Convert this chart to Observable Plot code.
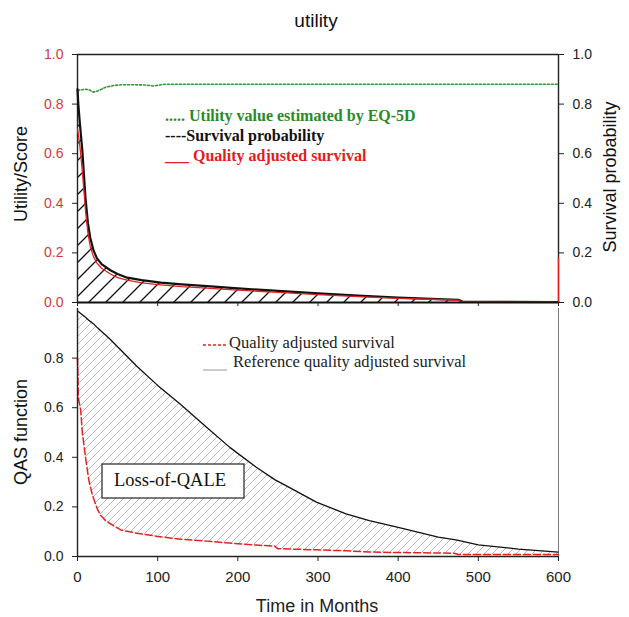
<!DOCTYPE html>
<html>
<head>
<meta charset="utf-8">
<script src="https://cdn.jsdelivr.net/npm/d3@7"></script>
<script src="https://cdn.jsdelivr.net/npm/@observablehq/plot@0.6"></script>
<style>
  body { margin: 0; background: #fff; }
  #wrap { position: relative; width: 629px; height: 617px; overflow: hidden; background: #fff; }
  .plotbox svg { overflow: visible; }
</style>
</head>
<body>
<svg width="0" height="0" style="position:absolute">
  <defs>
    <pattern id="hatchTop" patternUnits="userSpaceOnUse" width="17" height="17">
      <path d="M-2,2 L2,-2 M0,17 L17,0 M15,19 L19,15" stroke="#111" stroke-width="1.3"/>
    </pattern>
    <pattern id="hatchBot" patternUnits="userSpaceOnUse" width="8" height="8">
      <path d="M-1,1 L1,-1 M0,8 L8,0 M7,9 L9,7" stroke="#9a9a9a" stroke-width="0.7"/>
    </pattern>
  </defs>
</svg>
<div id="wrap">
  <div id="toppanel" class="plotbox" style="position:absolute;left:0;top:0"></div>
  <div id="botpanel" class="plotbox" style="position:absolute;left:0;top:302px"></div>
</div>
<script>
// ---------- Data ----------
// Top panel: utility (EQ-5D), survival probability, quality adjusted survival
const utilT = [0, 5, 10, 15, 20, 25, 30, 35, 45, 55, 70, 85, 95, 100, 110, 130, 600];
const utilV = [0.855, 0.858, 0.86, 0.857, 0.848, 0.853, 0.86, 0.868, 0.875, 0.878, 0.878, 0.877, 0.873, 0.876, 0.88, 0.88, 0.88];

const survT = [0, 1, 3, 6, 10, 13, 16, 20, 24, 30, 41, 50, 62, 80, 104, 130, 166, 200, 250, 300, 350, 400, 450, 475, 480, 500, 600];
const survV = [0.86, 0.80, 0.72, 0.615, 0.42, 0.32, 0.26, 0.21, 0.18, 0.155, 0.13, 0.115, 0.10, 0.09, 0.08, 0.073, 0.065, 0.057, 0.047, 0.037, 0.028, 0.02, 0.014, 0.011, 0.004, 0.003, 0.002];

const qasTopT = [0, 1, 3, 6, 10, 13, 16, 20, 24, 30, 41, 50, 62, 80, 104, 130, 166, 200, 250, 300, 350, 400, 450, 475, 480, 500, 600, 600];
const qasTopV = [0.70, 0.68, 0.63, 0.53, 0.37, 0.28, 0.225, 0.185, 0.16, 0.138, 0.115, 0.10, 0.09, 0.079, 0.071, 0.064, 0.057, 0.05, 0.041, 0.032, 0.024, 0.017, 0.012, 0.009, 0.003, 0.003, 0.002, 0.18];

// Bottom panel: QAS vs reference QAS
const botT   = [0, 1, 4, 6, 10, 14, 18, 21, 25, 29, 35, 41, 54, 74, 100, 128, 161, 190, 223, 246, 250, 256, 298, 335, 364, 400, 450, 470, 475, 500, 550, 600];
const botRef = [0.99, 0.988, 0.98, 0.975, 0.965, 0.953, 0.943, 0.935, 0.922, 0.91, 0.893, 0.875, 0.833, 0.767, 0.69, 0.615, 0.521, 0.44, 0.36, 0.31, 0.303, 0.293, 0.219, 0.172, 0.145, 0.117, 0.078, 0.068, 0.065, 0.047, 0.03, 0.018];
const botQas = [0.80, 0.64, 0.59, 0.50, 0.40, 0.31, 0.255, 0.225, 0.19, 0.165, 0.145, 0.132, 0.107, 0.094, 0.081, 0.07, 0.062, 0.054, 0.046, 0.042, 0.031, 0.031, 0.027, 0.023, 0.018, 0.016, 0.014, 0.013, 0.008, 0.008, 0.008, 0.008];

// Ticks
const yTicks = [0, 0.2, 0.4, 0.6, 0.8, 1.0];
const yTicksBot = [0, 0.2, 0.4, 0.6, 0.8];
const xTicks = [0, 100, 200, 300, 400, 500, 600];

// ---------- Tables ----------
const util = utilT.map((t, i) => ({t, v: utilV[i]}));
const surv = survT.map((t, i) => ({t, v: survV[i]}));
const qasTop = qasTopT.map((t, i) => ({t, v: qasTopV[i]}));
const bot = botT.map((t, i) => ({t, ref: botRef[i], qas: botQas[i]}));

const fmt = d => d.toFixed(1);
const FONT = "'Liberation Sans', Arial, sans-serif";

// ---------- Top panel ----------
const topPlot = Plot.plot({
  width: 629, height: 306,
  marginLeft: 77, marginRight: 71, marginTop: 54, marginBottom: 4,
  style: {fontFamily: FONT, fontSize: "14px", background: "transparent"},
  x: {domain: [0, 600], axis: null},
  y: {domain: [0, 1], axis: null},
  marks: [
    Plot.areaY(surv, {x: "t", y: "v", fill: "url(#hatchTop)"}),
    Plot.ruleY([1], {stroke: "#222", strokeWidth: 1.4}),
    Plot.ruleX([0], {stroke: "#222", strokeWidth: 1.4}),
    Plot.ruleX([600], {stroke: "#222", strokeWidth: 1.4}),
    Plot.line(util, {x: "t", y: "v", stroke: "#2f9a2f", strokeWidth: 1.6, strokeDasharray: "2,2"}),
    Plot.line(surv, {x: "t", y: "v", stroke: "#111", strokeWidth: 2.2}),
    Plot.line(qasTop, {x: "t", y: "v", stroke: "#e02020", strokeWidth: 1.3}),
    Plot.ruleY([0], {stroke: "#111", strokeWidth: 1.8}),
    Plot.axisY({ticks: yTicks, anchor: "left", tickFormat: fmt, tickSize: 5, tickPadding: 9,
      fill: "#d23c3c", stroke: "#222", fontSize: 14, label: null}),
    Plot.axisY({ticks: yTicks, anchor: "right", tickFormat: fmt, tickSize: 5, tickPadding: 9,
      fill: "#222", stroke: "#222", fontSize: 14, label: null}),
    Plot.axisX({ticks: xTicks, anchor: "bottom", tickSize: 4, tickFormat: () => "", stroke: "#222", label: null})
  ]
});
document.getElementById("toppanel").appendChild(topPlot);

// ---------- Bottom panel ----------
const botPlot = Plot.plot({
  width: 629, height: 315,
  marginLeft: 77, marginRight: 71, marginTop: 6, marginBottom: 61,
  style: {fontFamily: FONT, fontSize: "14px", background: "transparent"},
  x: {domain: [0, 600], axis: null},
  y: {domain: [0, 1], axis: null},
  marks: [
    Plot.areaY(bot, {x: "t", y1: "qas", y2: "ref", fill: "url(#hatchBot)"}),
    Plot.line(bot, {x: "t", y: "ref", stroke: "#111", strokeWidth: 1.3}),
    Plot.line(bot, {x: "t", y: "qas", stroke: "#e82020", strokeWidth: 1.5, strokeDasharray: "7,3"}),
    Plot.ruleX([0], {stroke: "#222", strokeWidth: 1.4}),
    Plot.ruleX([600], {stroke: "#555", strokeWidth: 0.8}),
    Plot.ruleY([0], {stroke: "#222", strokeWidth: 1.4}),
    Plot.axisY({ticks: yTicksBot, anchor: "left", tickFormat: fmt, tickSize: 5, tickPadding: 9,
      fill: "#222", stroke: "#222", fontSize: 14, label: null}),
    Plot.axisX({ticks: xTicks, anchor: "bottom", tickSize: 5, tickPadding: 10,
      fill: "#222", stroke: "#222", fontSize: 15, label: null})
  ]
});
document.getElementById("botpanel").appendChild(botPlot);

// ---------- Annotations (title, axis titles, legends) ----------
const ov = d3.select("#wrap").append("svg")
  .attr("width", 629).attr("height", 617)
  .style("position", "absolute").style("left", 0).style("top", 0)
  .style("pointer-events", "none");

ov.append("text").attr("x", 316).attr("y", 22).attr("text-anchor", "middle")
  .attr("dominant-baseline", "middle").attr("font-family", FONT).attr("font-size", 19)
  .attr("fill", "#111").text("utility");

function vlabel(x, y, txt) {
  ov.append("text").attr("transform", `translate(${x},${y}) rotate(-90)`)
    .attr("text-anchor", "middle").attr("dominant-baseline", "middle")
    .attr("font-family", FONT).attr("font-size", 18).attr("fill", "#111").text(txt);
}
vlabel(22, 174, "Utility/Score");
vlabel(611, 177, "Survival probability");
vlabel(22, 432, "QAS function");

ov.append("text").attr("x", 317).attr("y", 607).attr("text-anchor", "middle")
  .attr("dominant-baseline", "middle").attr("font-family", FONT).attr("font-size", 18)
  .attr("fill", "#222").text("Time in Months");

// top legend
const SERIF = "'Liberation Serif', 'Times New Roman', serif";
const legTop = [
  {y: 117, txt: "..... Utility value estimated by EQ-5D", c: "#2a8a2a"},
  {y: 137, txt: "----Survival probability", c: "#111"},
  {y: 157, txt: "___ Quality adjusted survival", c: "#e02020"}
];
legTop.forEach(d => {
  ov.append("text").attr("x", 165).attr("y", d.y).attr("dominant-baseline", "middle")
    .attr("font-family", SERIF).attr("font-weight", "bold").attr("font-size", 16)
    .attr("fill", d.c).text(d.txt);
});

// bottom legend
ov.append("line").attr("x1", 203).attr("x2", 227).attr("y1", 345).attr("y2", 345)
  .attr("stroke", "#e82020").attr("stroke-width", 1.4).attr("stroke-dasharray", "3,2");
ov.append("text").attr("x", 229).attr("y", 344).attr("dominant-baseline", "middle")
  .attr("font-family", SERIF).attr("font-size", 16.5).attr("fill", "#222").text("Quality adjusted survival");
ov.append("line").attr("x1", 203).attr("x2", 227).attr("y1", 370).attr("y2", 370)
  .attr("stroke", "#aaa").attr("stroke-width", 1.2);
ov.append("text").attr("x", 233).attr("y", 363).attr("dominant-baseline", "middle")
  .attr("font-family", SERIF).attr("font-size", 16.5).attr("fill", "#222").text("Reference quality adjusted survival");

// Loss-of-QALE box
ov.append("rect").attr("x", 102).attr("y", 464).attr("width", 142).attr("height", 34)
  .attr("fill", "#fff").attr("stroke", "#333").attr("stroke-width", 1.3);
ov.append("text").attr("x", 170).attr("y", 482).attr("text-anchor", "middle")
  .attr("dominant-baseline", "middle").attr("font-family", SERIF).attr("font-size", 18.5)
  .attr("fill", "#111").text("Loss-of-QALE");
</script>
</body>
</html>
